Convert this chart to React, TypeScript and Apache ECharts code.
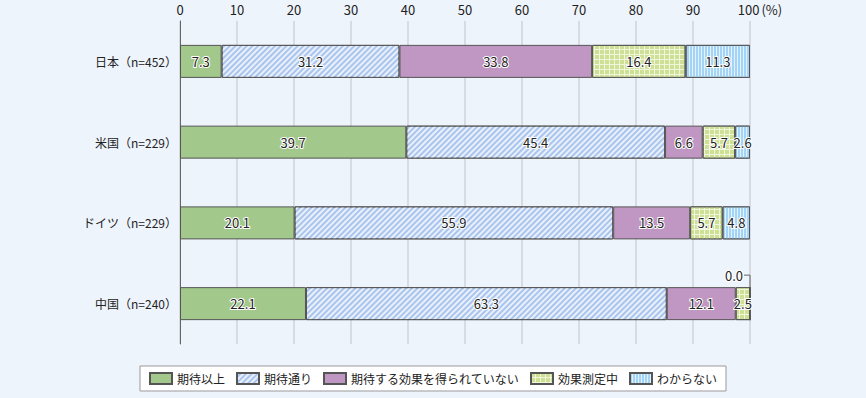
import React, { useEffect, useRef } from "react";
import * as echarts from "echarts";

const categories = ["日本（n=452）", "米国（n=229）", "ドイツ（n=229）", "中国（n=240）"];
const seriesNames = ["期待以上", "期待通り", "期待する効果を得られていない", "効果測定中", "わからない"];
const exceeded = [7.3, 39.7, 20.1, 22.1];
const asExpected = [31.2, 45.4, 55.9, 63.3];
const notAchieved = [33.8, 6.6, 13.5, 12.1];
const measuring = [16.4, 5.7, 5.7, 2.5];
const unknown = [11.3, 2.6, 4.8, 0.0];
const xMin = 0;
const xMax = 100;
const xInterval = 10;

const FONT = '"Noto Sans CJK JP", "Noto Sans", sans-serif';

export default function App() {
  const ref = useRef<HTMLDivElement>(null);
  useEffect(() => {
    if (!ref.current) return;
    const chart = echarts.init(ref.current, undefined, { renderer: "svg" });
    const border = { borderColor: "#555", borderWidth: 1 };
    const styles: any[] = [
      { color: "#a2c98b", ...border },
      {
        color: "#a9c5ee",
        ...border,
        decal: {
          symbol: "rect",
          symbolSize: 1,
          color: "rgba(255,255,255,0.75)",
          dashArrayX: [1, 0],
          dashArrayY: [1.5, 2],
          rotation: -Math.PI / 4,
        },
      },
      { color: "#c096c3", ...border },
      {
        color: "#f0f6da",
        ...border,
        decal: {
          symbol: "rect",
          symbolSize: 1,
          color: "#cde096",
          dashArrayX: [4, 1],
          dashArrayY: [4, 1],
        },
      },
      {
        color: "#e2f2fd",
        ...border,
        decal: {
          symbol: "rect",
          symbolSize: 1,
          color: "#a3d4f6",
          dashArrayX: [2, 1],
          dashArrayY: [1, 0],
        },
      },
    ];
    const dataSets = [exceeded, asExpected, notAchieved, measuring, unknown];
    const series = dataSets.map((arr, si) => ({
      name: seriesNames[si],
      type: "bar",
      stack: "total",
      barWidth: 33,
      itemStyle: styles[si],
      label: {
        show: true,
        position: "inside",
        fontSize: 13,
        fontFamily: FONT,
        color: "#222",
        textBorderColor: "#fff",
        textBorderWidth: 2,
        formatter: (p: any) => Number(p.value).toFixed(1),
      },
      labelLine: { show: true, length2: 6, lineStyle: { color: "#666", width: 1 } },
      labelLayout: (p: any) =>
        arr[p.dataIndex] === 0 ? { dx: -16, dy: -2 } : {},
      data: arr.map((v) =>
        v === 0 ? { value: v, label: { position: "top", distance: 3 } } : v
      ),
    }));
    chart.setOption({
      animation: false,
      backgroundColor: "#eef4fc",
      textStyle: { fontFamily: FONT },
      grid: { left: 180, right: 116, top: 21, bottom: 54 },
      xAxis: {
        type: "value",
        position: "top",
        min: xMin,
        max: xMax,
        interval: xInterval,
        axisLine: { show: false },
        axisTick: { show: false },
        splitLine: { show: true, lineStyle: { color: "#d0d3d8", width: 1.5 } },
        axisLabel: {
          fontSize: 13,
          color: "#222",
          margin: 5,
          formatter: (v: number) => (v === xMax ? "{a|" + v + "}{b|(%)}" : String(v)),
          rich: {
            a: { fontSize: 13, color: "#222", padding: [0, 0, 0, 20] },
            b: { fontSize: 13, color: "#222", padding: [0, 0, 0, 2] },
          },
        },
      },
      yAxis: {
        type: "category",
        inverse: true,
        data: categories,
        axisLine: { show: true, lineStyle: { color: "#666", width: 1 } },
        axisTick: { show: false },
        axisLabel: { fontSize: 12, color: "#222", margin: 3 },
      },
      legend: {
        bottom: 7,
        left: "center",
        data: seriesNames,
        icon: "rect",
        itemWidth: 22,
        itemHeight: 11,
        itemGap: 11,
        padding: [6, 9],
        backgroundColor: "#fff",
        borderColor: "#999",
        borderWidth: 1,
        textStyle: { fontSize: 12, color: "#222" },
      },
      series,
    });
    return () => chart.dispose();
  }, []);
  return (
    <div
      ref={ref}
      style={{ position: "fixed", left: 0, top: 0, width: 866, height: 398 }}
    />
  );
}
